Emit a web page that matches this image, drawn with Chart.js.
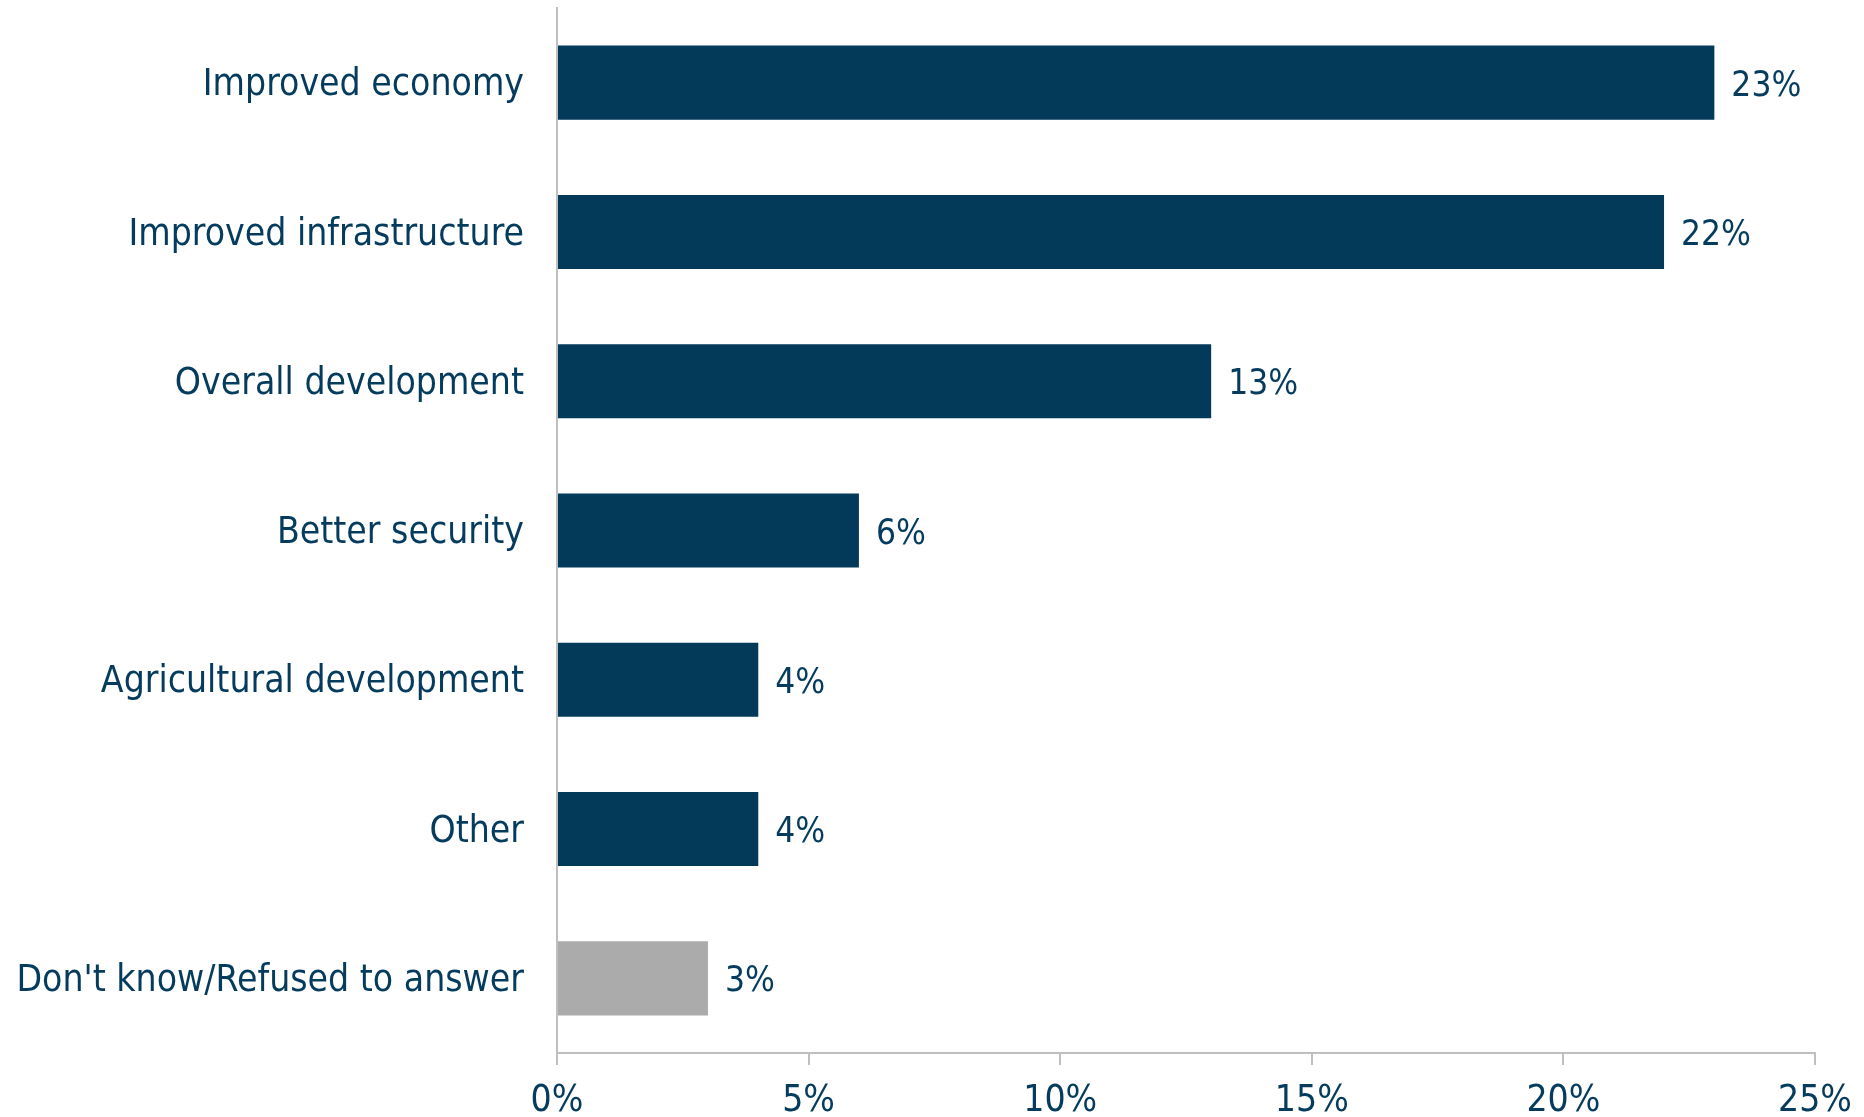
<!DOCTYPE html>
<html>
<head>
<meta charset="utf-8">
<script src="https://cdn.jsdelivr.net/npm/chart.js@4/dist/chart.umd.min.js"></script>
<style>
html,body{margin:0;padding:0;background:#fff;}
#wrap{width:1864px;height:1117px;position:relative;}
</style>
</head>
<body>
<div id="wrap"><canvas id="c" width="1864" height="1117"></canvas></div>
<script>
const categories = ["Improved economy","Improved infrastructure","Overall development","Better security","Agricultural development","Other","Don't know/Refused to answer"];
const values = [23,22,13,6,4,4,3];
const barColors = ["#033A5A","#033A5A","#033A5A","#033A5A","#033A5A","#033A5A","#ABABAB"];
const xTicks = [0,5,10,15,20,25];

const FONT = "'DejaVu Sans Condensed', 'DejaVu Sans', sans-serif";
const TXT = "#053C5E";
const FS = 37;

const labelPlugin = {
  id: 'barLabels',
  afterDatasetsDraw(chart) {
    const ctx = chart.ctx;
    const meta = chart.getDatasetMeta(0);
    ctx.save();
    ctx.font = "35px " + FONT;
    ctx.fillStyle = TXT;
    ctx.textBaseline = 'alphabetic';
    ctx.textAlign = 'left';
    meta.data.forEach((bar, i) => {
      ctx.fillText(values[i] + '%', bar.x + 17, bar.y + 13);
    });
    ctx.restore();
  }
};

new Chart(document.getElementById('c'), {
  type: 'bar',
  data: {
    labels: categories,
    datasets: [{
      data: values,
      backgroundColor: barColors,
      borderWidth: 0,
      categoryPercentage: 1.0,
      barPercentage: 0.496
    }]
  },
  options: {
    indexAxis: 'y',
    responsive: false,
    animation: false,
    devicePixelRatio: 1,
    layout: { padding: { top: 8, right: 49, left: 0, bottom: 0 } },
    plugins: { legend: { display: false }, tooltip: { enabled: false } },
    scales: {
      x: {
        min: 0, max: 25,
        afterBuildTicks(axis) { axis.ticks = xTicks.map(v => ({ value: v })); },
        afterFit(axis) { axis.height = 64; axis.paddingLeft = 0; axis.paddingRight = 0; },
        border: { display: true, color: '#BFBFBF', width: 2 },
        grid: { display: true, drawOnChartArea: false, drawTicks: true, tickLength: 12, color: '#BFBFBF', lineWidth: 2 },
        ticks: { color: TXT, font: { family: FONT, size: FS }, padding: 14, callback: v => v + '%' }
      },
      y: {
        afterFit(axis) { axis.width = 557; axis.paddingTop = 0; axis.paddingBottom = 0; },
        border: { display: true, color: '#BFBFBF', width: 2 },
        grid: { display: false },
        ticks: { color: TXT, font: { family: FONT, size: FS }, padding: 25, labelOffset: 3 }
      }
    }
  },
  plugins: [labelPlugin]
});
</script>
</body>
</html>
